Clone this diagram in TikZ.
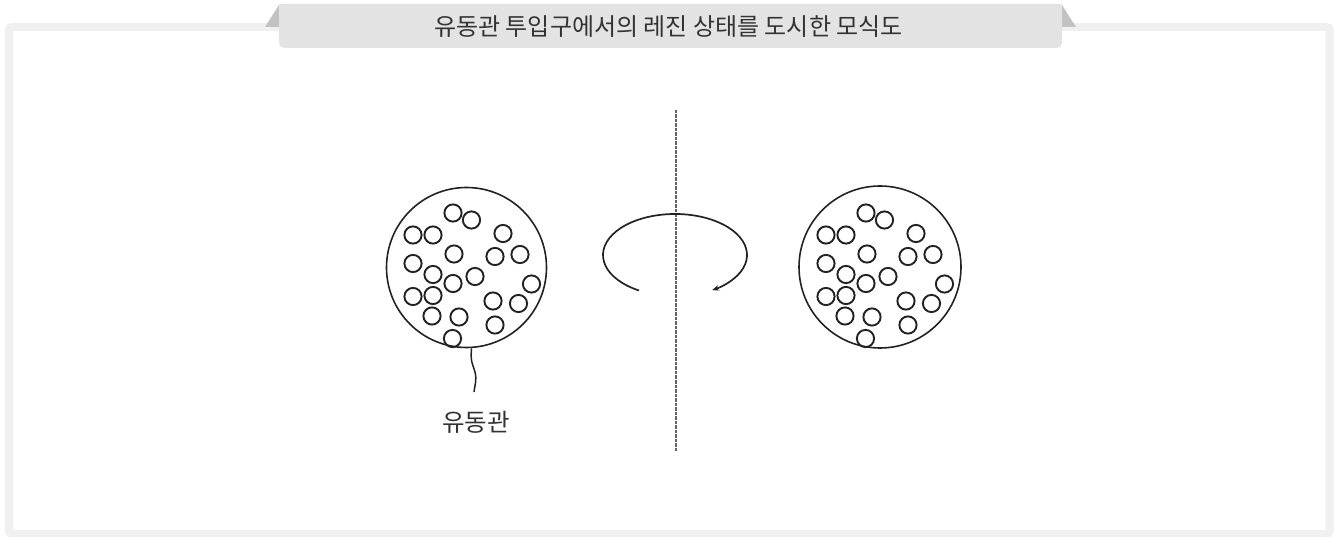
\documentclass[tikz,border=0pt]{standalone}
\usepackage{fontspec}
\setmainfont{Noto Sans CJK KR}
\usetikzlibrary{arrows.meta}
\definecolor{framegray}{HTML}{F0F0F0}
\definecolor{tabgray}{HTML}{E3E3E3}
\definecolor{tridark}{HTML}{C2C2C2}
\definecolor{txt}{HTML}{333333}
\definecolor{ink}{HTML}{222222}
\tikzset{
  pipe/.style={circle, draw=ink, line width=1.6pt, minimum size=160pt, inner sep=0pt},
  bead/.style={draw=ink, line width=1.9pt},
  label/.style={text=txt, font=\fontsize{24.5pt}{28pt}\selectfont, inner sep=0pt},
}
\newcommand{\beadset}{(453,213),(471.5,220),(413,235),(433,235),(503,233.5),(454,254),(495,256.5),(520,254.5),(413,263.5),(433,274.5),(453,283.5),(475,276.5),(531.5,284),(413,296.5),(433,295.5),(493,301),(518.5,303.5),(432,316),(459,317),(495,325),(452.5,338.5)}
\begin{document}
\begin{tikzpicture}[x=1pt,y=-1pt]
\useasboundingbox (0,0) rectangle (1334,537);
% frame
\draw[framegray, line width=8pt, rounded corners=3pt] (9,27) rectangle (1329.5,534);
% title tab
\fill[tridark] (265,27) -- (279,5) -- (279,27) -- cycle;
\fill[tridark] (1076,27) -- (1062,5) -- (1062,27) -- cycle;
\fill[tabgray, rounded corners=5pt] (279,48) -- (279,4) -- (1062,4) -- (1062,48) -- cycle;
\fill[tabgray] (279,4) rectangle (1062,20);
\node[label, font=\fontsize{24pt}{28pt}\selectfont] (title) at (668.5,26.5) {유동관 투입구에서의 레진 상태를 도시한 모식도};
% pipes
\node[pipe] (pipeL) at (466.5,267.5) {};
\node[pipe, minimum size=162pt] (pipeR) at (880,267) {};
\foreach \p in \beadset { \draw[bead] \p circle (8.6); }
\begin{scope}[xshift=413pt]
\foreach \p in \beadset { \draw[bead] \p circle (8.6); }
\end{scope}
% axis
\coordinate (axTop) at (675.5,110);
\coordinate (axBot) at (675.5,452);
\draw[ink!70, line width=2pt, dash pattern=on 3.5pt off 1pt] (axTop) -- (axBot);
% rotation arrow
\coordinate (rotC) at (675,255);
\draw[ink, line width=1.7pt, -{Stealth[length=7pt,width=5.5pt]}] ([shift={(120:72 and 41)}]rotC) arc[start angle=120, end angle=419, x radius=72, y radius=41];
% lead line and label
\node[label] (lab) at (476,422) {유동관};
\coordinate (leadEnd) at (474,392);
\draw[ink, line width=1.5pt] (pipeL.south) ++(5,0) .. controls +(-1,14) and +(-3,-10) .. (475,372) .. controls +(2,8) and +(1,-8) .. (leadEnd);
\end{tikzpicture}
\end{document}
